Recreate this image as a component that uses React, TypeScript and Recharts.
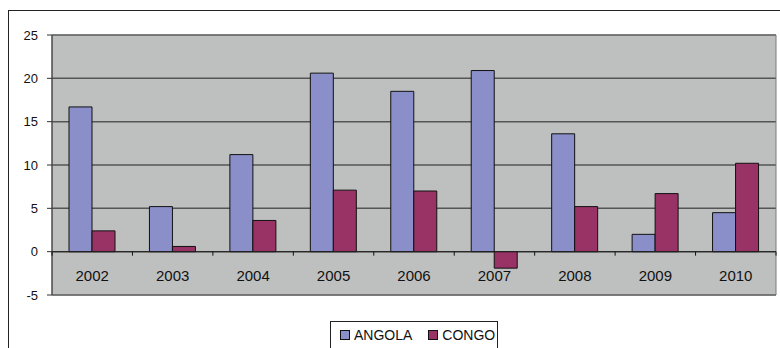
import { BarChart, Bar, XAxis, YAxis, CartesianGrid, Legend, ReferenceLine, ReferenceArea } from "recharts";

const years = ["2002", "2003", "2004", "2005", "2006", "2007", "2008", "2009", "2010"];
const angola = [16.7, 5.2, 11.2, 20.6, 18.5, 20.9, 13.6, 2.0, 4.5];
const congo = [2.4, 0.6, 3.6, 7.1, 7.0, -1.9, 5.2, 6.7, 10.2];
const yTicks = [-5, 0, 5, 10, 15, 20, 25];

const data = years.map((y, i) => ({ year: y, ANGOLA: angola[i], CONGO: congo[i] }));

const W = 780;
const H = 348;
const LEGEND_H = 40;
// legend height gets added to the bottom offset by recharts, so take it off here
const M = { top: 35, right: 4, left: 8, bottom: 52 - LEGEND_H };
const Y_W = 44;
const PLOT_W = W - M.left - Y_W - M.right;
const PLOT_H = 260;
const BAND = PLOT_W / years.length;
const FONT = "'Liberation Sans', Arial, sans-serif";
const ANGOLA_C = "#8a8fc9";
const CONGO_C = "#993366";

// x labels sit just under the zero line, ticks between categories
const XTick = ({ x, y, index }: any) => {
  const zeroY = y - (PLOT_H * 5) / 30;
  const left = x - BAND / 2;
  return (
    <g>
      <line x1={left} x2={left} y1={zeroY} y2={zeroY + 4} stroke="#111" />
      {index === years.length - 1 && (
        <line x1={x + BAND / 2} x2={x + BAND / 2} y1={zeroY} y2={zeroY + 4} stroke="#111" />
      )}
      <text x={x} y={zeroY + 29} textAnchor="middle" fontSize={15} fill="#111" fontFamily={FONT}>
        {years[index]}
      </text>
    </g>
  );
};

const LegendBox = () => (
  <div
    style={{
      border: "1px solid #222",
      background: "#fff",
      height: LEGEND_H,
      boxSizing: "border-box",
      display: "flex",
      alignItems: "flex-start",
      paddingTop: 6,
      paddingLeft: 9,
      fontFamily: FONT,
      fontSize: 14,
      color: "#111",
      lineHeight: "14px",
    }}
  >
    {[
      { name: "ANGOLA", c: ANGOLA_C },
      { name: "CONGO", c: CONGO_C },
    ].map((it, i) => (
      <span key={it.name} style={{ display: "flex", alignItems: "center", marginRight: i === 0 ? 16 : 0 }}>
        <span style={{ width: 8, height: 8, background: it.c, border: "1px solid #111", marginRight: 4 }} />
        {it.name}
      </span>
    ))}
  </div>
);

export default function App() {
  return (
    <div style={{ position: "fixed", left: 0, top: 0, width: W, height: H, overflow: "hidden", background: "#fff" }}>
      <div
        style={{
          position: "absolute",
          left: 8,
          top: 10,
          width: 800,
          height: 400,
          borderLeft: "1.5px solid #222",
          borderTop: "1.5px solid #222",
        }}
      />
      <div style={{ position: "absolute", left: 0, top: 0 }}>
        <BarChart width={W} height={H} data={data} margin={M} barGap={0} barSize={23}>
          <CartesianGrid vertical={false} fill="#bec0bf" stroke="#555" strokeWidth={1.5} />
          <ReferenceArea y1={-5} y2={25} fill="none" stroke="#7a7a7a" ifOverflow="visible" />
          <XAxis
            dataKey="year"
            height={1}
            axisLine={false}
            tickLine={false}
            tickSize={0}
            tickMargin={0}
            interval={0}
            tick={<XTick />}
          />
          <YAxis
            width={Y_W}
            domain={[-5, 25]}
            ticks={yTicks}
            interval={0}
            axisLine={{ stroke: "#333" }}
            tickLine={{ stroke: "#333" }}
            tickSize={5}
            tickMargin={9}
            tick={{ fontSize: 13, fill: "#111", fontFamily: FONT }}
          />
          <ReferenceLine y={0} stroke="#222" />
          <Bar dataKey="ANGOLA" fill={ANGOLA_C} stroke="#111" strokeWidth={1} isAnimationActive={false} />
          <Bar dataKey="CONGO" fill={CONGO_C} stroke="#111" strokeWidth={1} isAnimationActive={false} />
          <Legend
            content={<LegendBox />}
            wrapperStyle={{ position: "absolute", left: 330, top: 321, width: 168, bottom: "auto" }}
          />
        </BarChart>
      </div>
    </div>
  );
}
